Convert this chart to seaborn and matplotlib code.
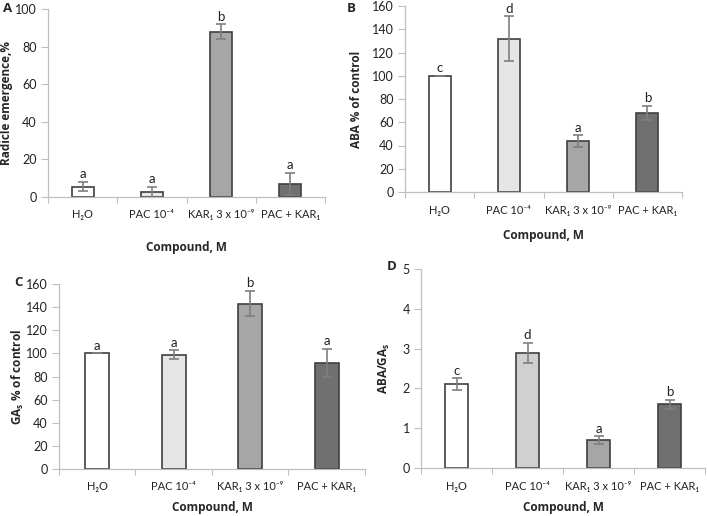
import numpy as np
import pandas as pd
import matplotlib
matplotlib.use("Agg")
import matplotlib.pyplot as plt
import seaborn as sns

# Data
compounds = ["H\u2082O", "PAC 10\u207b\u2074", "KAR\u2081 3 x 10\u207b\u2079", "PAC + KAR\u2081"]

radicle = [5.5, 2.5, 88, 7]
radicle_err = [2.5, 3, 4, 6]
radicle_letters = ["a", "a", "b", "a"]

aba = [100, 132, 44, 68]
aba_err = [0, 19, 5, 6]
aba_letters = ["c", "d", "a", "b"]

gas = [100, 99, 143, 92]
gas_err = [0, 3.5, 11, 12]
gas_letters = ["a", "a", "b", "a"]

ratio = [2.1, 2.9, 0.7, 1.6]
ratio_err = [0.15, 0.25, 0.1, 0.12]
ratio_letters = ["c", "d", "a", "b"]

colors_abc = ["#ffffff", "#e6e6e6", "#a6a6a6", "#707070"]
colors_d = ["#ffffff", "#d0d0d0", "#a6a6a6", "#707070"]

sns.set_theme(style="white")
plt.rcParams['font.family'] = ['Lato', 'DejaVu Sans']
BOLD = ['Open Sans', 'DejaVu Sans']

fig = plt.figure(figsize=(7.07, 5.16), dpi=100)


def panel(rect, vals, errs, letters, colors, ylabel, ymax, ystep, tag, tagpos, xlab_y, ylab_x):
    left, bottom, w, h = rect
    ax = fig.add_axes([left / 707, 1 - bottom / 516, w / 707, h / 516])
    df = pd.DataFrame({'Compound': compounds, 'Value': vals})
    sns.barplot(data=df, x='Compound', y='Value', hue='Compound', palette=colors,
                legend=False, width=0.32, edgecolor='#3f3f3f', linewidth=1.2,
                saturation=1, ax=ax)
    ax.errorbar(np.arange(4), vals, yerr=errs, fmt='none', ecolor='#7f7f7f',
                elinewidth=1.2, capsize=3.5, capthick=1.2)
    for i, (v, e, l) in enumerate(zip(vals, errs, letters)):
        ax.text(i, v + e + ymax * 0.008, l, ha='center', va='bottom', fontsize=9.5,
                color='#222222')
    ax.set_xlim(-0.5, 3.5)
    ax.set_ylim(0, ymax)
    ax.set_yticks(np.arange(0, ymax + ystep / 2, ystep))
    ax.set_xticks([-0.5, 0.5, 1.5, 2.5, 3.5], minor=True)
    ax.tick_params(axis='x', which='major', length=0, labelsize=8, pad=9,
                   labelcolor='#222222')
    ax.tick_params(axis='x', which='minor', length=4, color='#bfbfbf', width=0.8,
                   bottom=True)
    ax.tick_params(axis='y', length=5, color='#bfbfbf', width=0.8, left=True,
                   labelsize=9, labelcolor='#222222', pad=3)
    for s in ['top', 'right']:
        ax.spines[s].set_visible(False)
    for s in ['left', 'bottom']:
        ax.spines[s].set_color('#bfbfbf')
        ax.spines[s].set_linewidth(0.9)
    ax.set_xlabel('Compound, M', fontsize=8.5, fontweight='bold', family=BOLD, va='center')
    ax.xaxis.set_label_coords(0.5, -(xlab_y - bottom) / h)
    ax.set_ylabel(ylabel, fontsize=8.5, fontweight='bold', family=BOLD, va='center')
    ax.yaxis.set_label_coords(-(left - ylab_x) / w, 0.5)
    fig.text(tagpos[0] / 707, 1 - tagpos[1] / 516, tag, fontsize=9.5,
             fontweight='bold', family=BOLD, ha='left', va='center')
    return ax


panel((48, 197, 277, 188), radicle, radicle_err, radicle_letters, colors_abc,
      'Radicle emergence,%', 100, 20, 'A', (3, 9), 248, 7)
panel((405, 192, 277, 186), aba, aba_err, aba_letters, colors_abc,
      'ABA % of control', 160, 20, 'B', (347, 8), 235, 356)
panel((59, 469, 306, 185), gas, gas_err, gas_letters, colors_abc,
      'GA$_\\mathregular{s}$ % of control', 160, 20, 'C', (14, 283), 508, 18)
panel((421, 468, 284, 199), ratio, ratio_err, ratio_letters, colors_d,
      'ABA/GA$_\\mathregular{s}$', 5, 1, 'D', (387, 266), 508, 384)

fig.savefig('out.png', dpi=100)
